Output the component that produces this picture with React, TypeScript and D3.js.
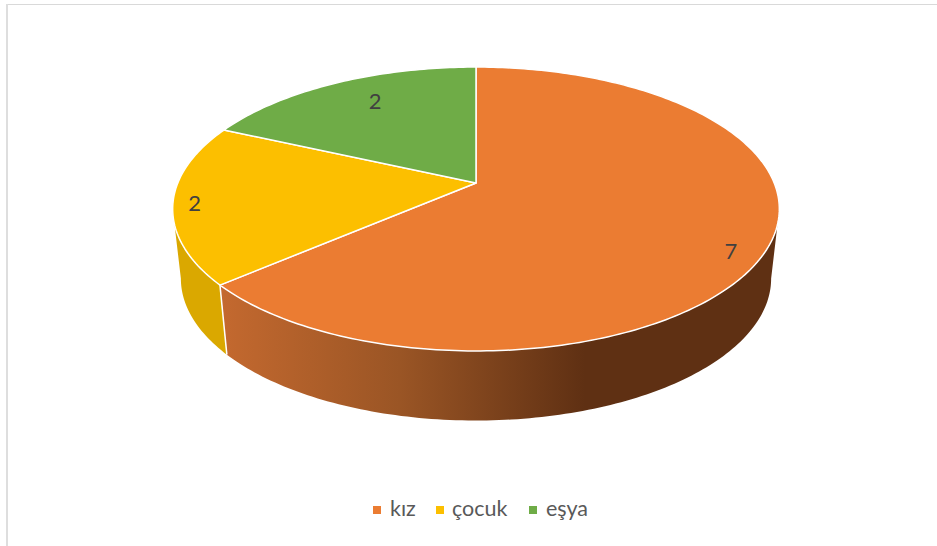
import React from "react";
import * as d3 from "d3";

const categories = ["kız", "çocuk", "eşya"];
const values = [7, 2, 2];
const colors = ["#EB7C32", "#FCBF00", "#6FAC47"];
const sideStops = [
  ["#5F3013", "#C4692F", "#9A5525", "#5F3013", "#5F3013"],
  ["#DAA800", "#DAA800", "#D6A400", "#D6A400", "#D6A400"],
  ["#5A8A39", "#5A8A39", "#5A8A39", "#5A8A39", "#5A8A39"],
];
const stopX = [173, 220, 400, 585, 778];

const W = 937;
const H = 546;
const CX = 476;
const CY = 183;
const RX = 298.2;
const RY = 137.2;
const K = -0.183;
const DEPTH = 69.6;
const LOWER = 0.973;

// Tilted disc: unit-circle angle to screen position, with perspective.
const project = (t: number, r = 1): [number, number] => {
  const ux = Math.sin(t) * r;
  const uy = -Math.cos(t) * r;
  const d = 1 + K * uy;
  return [CX + (RX * ux) / d, CY + (RY * uy) / d];
};
const projectLow = (t: number): [number, number] => {
  const [x, y] = project(t);
  return [CX + (x - CX) * LOWER, y + DEPTH];
};

const TAU = Math.PI * 2;
const arcs = d3.pie<number>().sort(null).startAngle(0).endAngle(TAU)(values);
const line = d3.line();
const sampled = (a: number, b: number) => {
  const n = Math.max(2, Math.ceil(((b - a) / TAU) * 360));
  return d3.range(n + 1).map((i) => a + ((b - a) * i) / n);
};

// Angle of the right-most and left-most rim points of the projected disc.
const rightT = Math.PI / 2 + Math.asin(-K);
const leftT = TAU - rightT;

const labelNudge: [number, number, number][] = [
  [0.88, -1, 14],
  [0.93, 0, 1],
  [0.7, 1, -10],
];
const legendX = [373, 436, 529];
const legendTextX = [390, 452, 546];

export default function App() {
  return (
    <svg
      width={W}
      height={H}
      viewBox={`0 0 ${W} ${H}`}
      style={{ position: "fixed", left: 0, top: 0, background: "#fff", display: "block" }}
    >
      <defs>
        {sideStops.map((stops, i) => (
          <linearGradient key={i} id={`side${i}`} gradientUnits="userSpaceOnUse" x1={173} x2={778} y1={0} y2={0}>
            {stops.map((c, j) => (
              <stop key={j} offset={(stopX[j] - 173) / (778 - 173)} stopColor={c} />
            ))}
          </linearGradient>
        ))}
      </defs>
      <rect x={0} y={0} width={W} height={H} fill="#fff" />
      <line x1={7} x2={W} y1={4.5} y2={4.5} stroke="#D9D9D9" strokeWidth={1} />
      <line x1={7} x2={7} y1={4} y2={H} stroke="#DEDEDE" strokeWidth={2} />

      {arcs.map((a, i) => {
        const s = Math.max(a.startAngle, rightT);
        const e = Math.min(a.endAngle, leftT);
        if (e <= s) return null;
        const ts = sampled(s, e);
        const pts = [...ts.map((t) => project(t)), ...ts.slice().reverse().map((t) => projectLow(t))];
        return <path key={i} d={line(pts) + "Z"} fill={`url(#side${i})`} />;
      })}
      {arcs.map((a, i) => {
        if (a.endAngle <= rightT || a.endAngle >= leftT) return null;
        const p = project(a.endAngle);
        const q = projectLow(a.endAngle);
        return <line key={i} x1={p[0]} y1={p[1]} x2={q[0]} y2={q[1]} stroke="#fff" strokeWidth={1.5} />;
      })}

      {arcs.map((a, i) => {
        const pts: [number, number][] = [[CX, CY], ...sampled(a.startAngle, a.endAngle).map((t) => project(t))];
        return <path key={i} d={line(pts) + "Z"} fill={colors[i]} stroke="#fff" strokeWidth={1.5} strokeLinejoin="round" />;
      })}

      {arcs.map((a, i) => {
        const [r, dx, dy] = labelNudge[i];
        const [x, y] = project((a.startAngle + a.endAngle) / 2, r);
        return (
          <text key={i} x={x + dx} y={y + dy} textAnchor="middle" dominantBaseline="central" fontFamily="Lato, sans-serif" fontSize={22} fill="#404040">
            {values[i]}
          </text>
        );
      })}

      {categories.map((c, i) => (
        <g key={c}>
          <rect x={legendX[i]} y={506} width={8} height={8} fill={colors[i]} />
          <text x={legendTextX[i]} y={516} fontFamily="Lato, sans-serif" fontSize={21.5} fill="#595959">
            {c}
          </text>
        </g>
      ))}
    </svg>
  );
}
